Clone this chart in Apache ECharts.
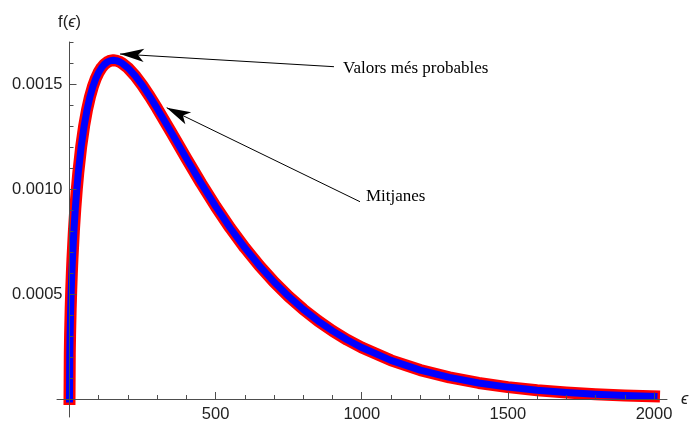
<!DOCTYPE html>
<html>
<head>
<meta charset="utf-8">
<script src="https://cdn.jsdelivr.net/npm/echarts@6/dist/echarts.min.js"></script>
<style>html,body{margin:0;padding:0;background:#fff}#c{width:691px;height:423px}</style>
</head>
<body>
<div id="c"></div>
<script>
const energy = [0,1,2,4,6,8,10,15,20,25,30,40,50,60,70,80,90,100,110,120,130,140,150,160,170,180,200,225,250,275,300,350,400,450,500,550,600,650,700,750,800,850,900,950,1000,1100,1200,1300,1400,1500,1600,1700,1800,1900,2000];
const density = [0,0.0002164,0.0003051,0.0004286,0.0005214,0.0005981,0.0006642,0.0008000,0.0009085,0.0009990,0.0010762,0.0012020,0.0012998,0.0013772,0.0014388,0.0014877,0.0015262,0.0015560,0.0015784,0.0015946,0.0016053,0.0016113,0.0016131,0.0016114,0.0016066,0.0015989,0.0015767,0.0015387,0.0014922,0.0014399,0.0013837,0.0012651,0.0011448,0.0010279,0.0009172,0.0008142,0.0007199,0.0006343,0.0005572,0.0004882,0.0004268,0.0003724,0.0003244,0.0002821,0.0002450,0.0001841,0.0001378,0.0001028,0.0000764,0.0000567,0.0000419,0.0000310,0.0000228,0.0000168,0.0000124];
const xMajorTicks = [500,1000,1500,2000];
const xMinorTicks = [100,200,300,400,600,700,800,900,1100,1200,1300,1400,1600,1700,1800,1900];
const yMajorTicks = [0.0005,0.0010,0.0015];
const yMinorTicks = [0.0001,0.0002,0.0003,0.0004,0.0006,0.0007,0.0008,0.0009,0.0011,0.0012,0.0013,0.0014,0.0016,0.0017];
const annotationTexts = ['Valors més probables','Mitjanes'];

const curve = energy.map((e,i)=>[e, density[i]]);
const AX = '#4d4d4d';
const SANS = "'Liberation Sans', Arial, sans-serif";
const SERIF = "'Liberation Serif', 'Times New Roman', serif";
const xMax = 2044.5, yMax = 0.0017;
// data grid: x from 0, y from 0
const dataBox = {left:69.5, right:24, top:42, bottom:24, containLabel:false, outerBoundsMode:'none'};
// decorative axis-line grid, slightly larger extent
const lineBox = {left:57, right:24, top:42, bottom:6, containLabel:false, outerBoundsMode:'none'};

const chart = echarts.init(document.getElementById('c'), null, {renderer:'canvas'});
chart.setOption({
  animation:false,
  backgroundColor:'#fff',
  grid:[Object.assign({}, dataBox), Object.assign({}, dataBox), Object.assign({}, lineBox)],
  xAxis:[{
    gridIndex:0, type:'value', min:0, max:xMax, z:5, position:'bottom',
    axisLine:{show:false, onZero:false},
    axisTick:{show:true, inside:true, length:7, customValues:xMajorTicks, lineStyle:{color:AX}},
    axisLabel:{show:true, customValues:xMajorTicks, margin:7, color:'#222', fontSize:16.5, fontFamily:SANS,
      formatter:v=>String(v)},
    splitLine:{show:false},
    name:'ϵ', nameLocation:'end', nameGap:14,
    nameTextStyle:{fontStyle:'italic', fontSize:16.5, color:'#222', fontFamily:SANS, align:'left', verticalAlign:'middle'}
  },{
    gridIndex:1, type:'value', min:0, max:xMax, z:5, position:'bottom',
    axisLine:{show:false, onZero:false},
    axisTick:{show:true, inside:true, length:4, customValues:xMinorTicks, lineStyle:{color:AX}},
    axisLabel:{show:false}, splitLine:{show:false}
  },{
    gridIndex:2, type:'value', min:-42.8, max:xMax, z:5,
    axisLine:{show:true, onZero:true, lineStyle:{color:AX, width:1}},
    axisTick:{show:false}, axisLabel:{show:false}, splitLine:{show:false}
  }],
  yAxis:[{
    gridIndex:0, type:'value', min:0, max:yMax, z:5, position:'left',
    axisLine:{show:false, onZero:false},
    axisTick:{show:true, inside:true, length:7, customValues:yMajorTicks, lineStyle:{color:AX}},
    axisLabel:{show:true, customValues:yMajorTicks, margin:7, color:'#222', fontSize:16.5, fontFamily:SANS,
      formatter:v=>Number(v).toFixed(4)},
    splitLine:{show:false},
    name:'f({e|ϵ})', nameLocation:'end', nameGap:11,
    nameTextStyle:{fontSize:16.5, color:'#222', fontFamily:SANS, align:'center',
      rich:{e:{fontStyle:'italic', fontSize:16.5, color:'#222', fontFamily:SANS}}}
  },{
    gridIndex:1, type:'value', min:0, max:yMax, z:5, position:'left',
    axisLine:{show:false, onZero:false},
    axisTick:{show:true, inside:true, length:4, customValues:yMinorTicks, lineStyle:{color:AX}},
    axisLabel:{show:false}, splitLine:{show:false}
  },{
    gridIndex:2, type:'value', min:-0.0000857, max:yMax, z:5,
    axisLine:{show:true, onZero:true, lineStyle:{color:AX, width:1}},
    axisTick:{show:false}, axisLabel:{show:false}, splitLine:{show:false}
  }],
  series:[{
    type:'line', xAxisIndex:0, yAxisIndex:0, z:2, clip:false, data:curve, showSymbol:false, symbol:'none',
    lineStyle:{color:'#ff0000', width:12, cap:'square', join:'round'}, silent:true
  },{
    type:'line', xAxisIndex:0, yAxisIndex:0, z:3, clip:false, data:curve, showSymbol:false, symbol:'none',
    lineStyle:{color:'#0000ff', width:7, cap:'square', join:'round'}, silent:true,
    markLine:{
      silent:true, animation:false, symbol:['none','arrow'],
      lineStyle:{color:'#000', width:1, type:'solid'},
      label:{show:false},
      data:[
        [{coord:[905,0.0015824], symbol:'none'},{coord:[172.8,0.0016429], symbol:'arrow', symbolSize:[10,24]}],
        [{coord:[994,0.0009395], symbol:'none'},{coord:[332.6,0.0013871], symbol:'arrow', symbolSize:[10,24]}]
      ]
    },
    markPoint:{
      silent:true, animation:false, symbol:'circle', symbolSize:0,
      label:{show:true, position:'right', formatter:'{b}', color:'#000', fontSize:17, fontFamily:SERIF},
      data:[
        {name:annotationTexts[0], coord:[905,0.0015824], label:{distance:9, offset:[0,2]}},
        {name:annotationTexts[1], coord:[994,0.0009395], label:{distance:6, offset:[0,-5]}}
      ]
    }
  }]
});
</script>
</body>
</html>
